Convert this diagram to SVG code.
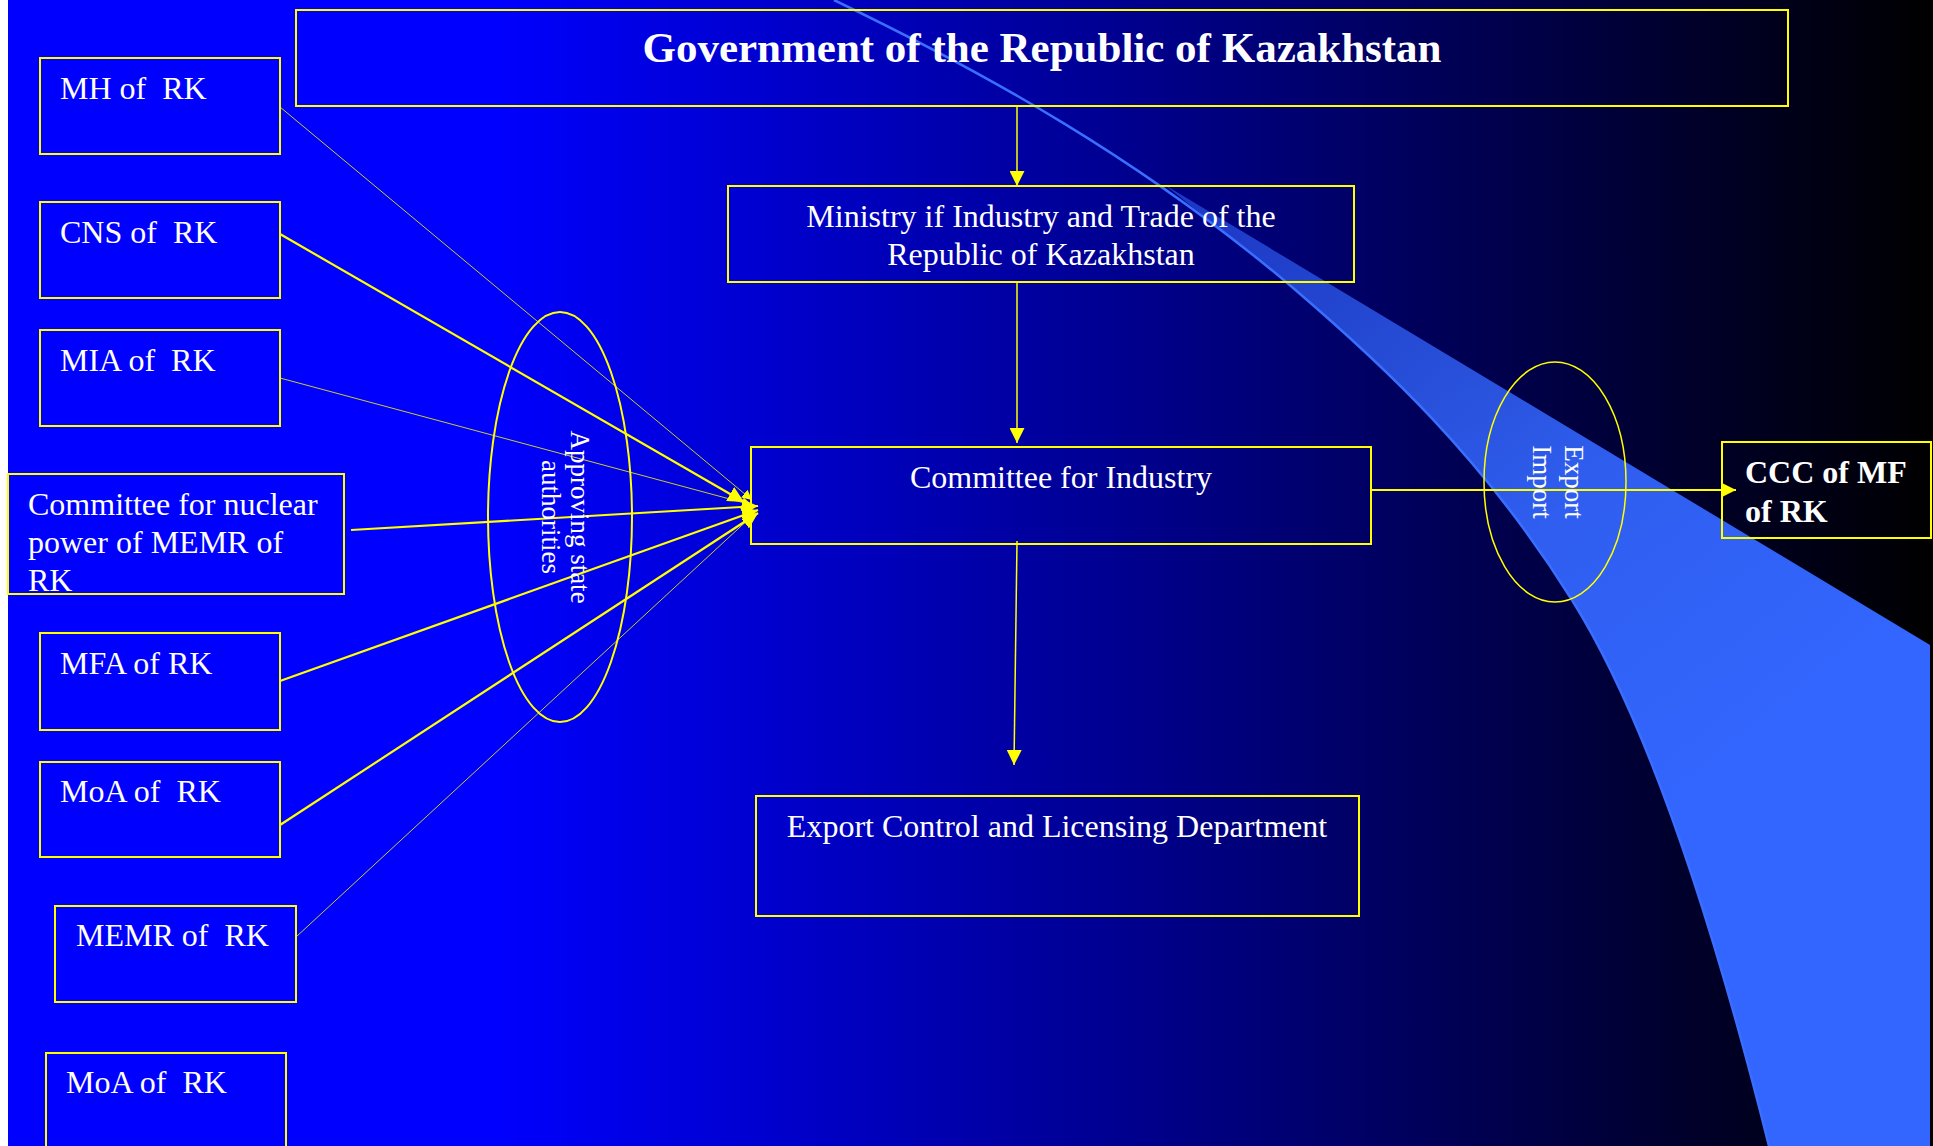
<svg xmlns="http://www.w3.org/2000/svg" width="1933" height="1146" viewBox="0 0 1933 1146">
<style>
.box{fill:none;stroke:#FFFF00;stroke-width:2}
.t{font-family:"Liberation Serif","Times New Roman",serif;font-size:32px;fill:#FFFFFF}
.b{font-weight:bold}
.big{font-size:43px}
.rt{font-family:"Liberation Serif","Times New Roman",serif;font-size:27px;fill:#FFFFFF;text-anchor:middle}
.c{fill:none;stroke:#FFFF00}
</style>
<defs>
<linearGradient id="bg" gradientUnits="userSpaceOnUse" x1="490" y1="0" x2="1933" y2="0">
<stop offset="0" stop-color="#0000FF"/>
<stop offset="1" stop-color="#000000"/>
</linearGradient>
<linearGradient id="band" gradientUnits="userSpaceOnUse" x1="1200" y1="200" x2="1700" y2="800">
<stop offset="0" stop-color="#3366FF" stop-opacity="0.55"/>
<stop offset="0.6" stop-color="#3366FF" stop-opacity="0.92"/>
<stop offset="1" stop-color="#3366FF" stop-opacity="1"/>
</linearGradient>
<marker id="ah" markerUnits="userSpaceOnUse" markerWidth="15" markerHeight="15" refX="15" refY="7.5" orient="auto" viewBox="0 0 15 15">
<path d="M0,0 L15,7.5 L0,15 z" fill="#FFFF00"/>
</marker>
<marker id="ahb" markerUnits="userSpaceOnUse" markerWidth="16" markerHeight="16" refX="16" refY="8" orient="auto" viewBox="0 0 16 16">
<path d="M0,0 L16,8 L0,16 z" fill="#FFFF00"/>
</marker>
<marker id="ahs" markerUnits="userSpaceOnUse" markerWidth="10" markerHeight="10" refX="10" refY="5" orient="auto" viewBox="0 0 10 10">
<path d="M0,0 L10,5 L0,10 z" fill="#FFFF00"/>
</marker>
</defs>

<g id="background">
<rect x="0" y="0" width="1933" height="1146" fill="url(#bg)"/>
<rect x="0" y="0" width="8" height="1146" fill="#FFFFFF"/>
<path d="M1165,185 L1930,645 L1930,1146 L1769,1146 C1730,990 1660,740 1572,600 C1482,456 1382,364 1292,287 Z" fill="url(#band)"/>
<path d="M834,0 C984,72 1142,160 1292,287 C1382,364 1482,456 1572,600 C1660,740 1730,990 1769,1146" fill="none" stroke="#3A6EFF" stroke-width="2.5"/>
<rect x="1930" y="0" width="3" height="1146" fill="#000000"/>
</g>

<g id="connectors">
<line class="c" x1="1017" y1="106" x2="1017" y2="186" stroke-width="1.5" marker-end="url(#ah)"/>
<line class="c" x1="1017" y1="282" x2="1017" y2="443" stroke-width="1.5" marker-end="url(#ah)"/>
<line class="c" x1="1017" y1="541" x2="1014" y2="765" stroke-width="1.5" marker-end="url(#ah)"/>
<line class="c" x1="1371" y1="490" x2="1736" y2="490" stroke-width="2" marker-end="url(#ah)"/>
<line class="c" x1="280" y1="107" x2="752" y2="500" stroke-width="0.8" marker-end="url(#ahs)"/>
<line class="c" x1="280" y1="234" x2="744" y2="502" stroke-width="2.2" marker-end="url(#ahb)"/>
<line class="c" x1="280" y1="378" x2="752" y2="505" stroke-width="0.8" marker-end="url(#ahs)"/>
<line class="c" x1="351" y1="530" x2="758" y2="506" stroke-width="2" marker-end="url(#ahb)"/>
<line class="c" x1="280" y1="681" x2="758" y2="510" stroke-width="2.2" marker-end="url(#ahb)"/>
<line class="c" x1="280" y1="825" x2="758" y2="513" stroke-width="2.2" marker-end="url(#ahb)"/>
<line class="c" x1="296" y1="937" x2="752" y2="516" stroke-width="0.8" marker-end="url(#ahs)"/>
</g>

<g id="gov">
<rect class="box" x="296" y="10" width="1492" height="96"/>
<text class="t b big" x="1042" y="62" text-anchor="middle">Government of the Republic of Kazakhstan</text>
</g>

<g id="ministry">
<rect class="box" x="728" y="186" width="626" height="96"/>
<text class="t" text-anchor="middle"><tspan x="1041" y="227">Ministry if Industry and Trade of the</tspan><tspan x="1041" y="265">Republic of Kazakhstan</tspan></text>
</g>

<g id="committee-industry">
<rect class="box" x="751" y="447" width="620" height="97"/>
<text class="t" x="1061" y="488" text-anchor="middle">Committee for Industry</text>
</g>

<g id="export-dept">
<rect class="box" x="756" y="796" width="603" height="120"/>
<text class="t" x="1057" y="837" text-anchor="middle">Export Control and Licensing Department</text>
</g>

<g id="ccc">
<rect class="box" x="1722" y="442" width="209" height="96"/>
<text class="t b"><tspan x="1745" y="483">CCC of MF</tspan><tspan x="1745" y="522">of RK</tspan></text>
</g>

<g id="approving">
<ellipse cx="560" cy="517" rx="72" ry="205" fill="none" stroke="#FFFF00" stroke-width="2"/>
<text class="rt" transform="translate(562,517) rotate(90)"><tspan x="0" y="-9">Approving state</tspan><tspan x="0" y="20">authorities</tspan></text>
</g>

<g id="export-import">
<ellipse cx="1555" cy="482" rx="71" ry="120" fill="none" stroke="#FFFF00" stroke-width="1.5"/>
<text class="rt" transform="translate(1555,482) rotate(90)"><tspan x="0" y="-10">Export</tspan><tspan x="0" y="22">Import</tspan></text>
</g>

<g id="mh">
<rect class="box" x="40" y="58" width="240" height="96"/>
<text class="t" x="60" y="99" xml:space="preserve">MH of  RK</text>
</g>
<g id="cns">
<rect class="box" x="40" y="202" width="240" height="96"/>
<text class="t" x="60" y="243" xml:space="preserve">CNS of  RK</text>
</g>
<g id="mia">
<rect class="box" x="40" y="330" width="240" height="96"/>
<text class="t" x="60" y="371" xml:space="preserve">MIA of  RK</text>
</g>
<g id="nuclear">
<rect class="box" x="8" y="474" width="336" height="120"/>
<text class="t"><tspan x="28" y="515">Committee for nuclear</tspan><tspan x="28" y="553">power of MEMR of</tspan><tspan x="28" y="591">RK</tspan></text>
</g>
<g id="mfa">
<rect class="box" x="40" y="633" width="240" height="97"/>
<text class="t" x="60" y="674">MFA of RK</text>
</g>
<g id="moa1">
<rect class="box" x="40" y="762" width="240" height="95"/>
<text class="t" x="60" y="802" xml:space="preserve">MoA of  RK</text>
</g>
<g id="memr">
<rect class="box" x="55" y="906" width="241" height="96"/>
<text class="t" x="76" y="946" xml:space="preserve">MEMR of  RK</text>
</g>
<g id="moa2">
<rect class="box" x="46" y="1053" width="240" height="110"/>
<text class="t" x="66" y="1093" xml:space="preserve">MoA of  RK</text>
</g>
</svg>
